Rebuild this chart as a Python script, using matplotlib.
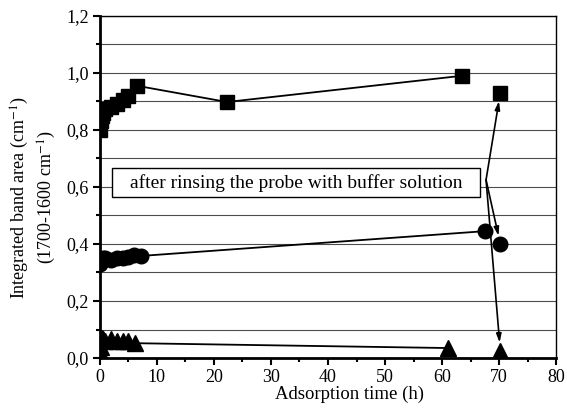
import numpy as np
import matplotlib
matplotlib.use("Agg")
import matplotlib.pyplot as plt
from matplotlib.patches import Rectangle
from matplotlib.ticker import MultipleLocator, FuncFormatter

plt.rcParams["font.family"] = ["Liberation Serif", "DejaVu Serif"]
plt.rcParams["mathtext.fontset"] = "stix"

# squares
sq_x = [0, 0.17, 0.33, 0.5, 1, 2, 3, 4, 5, 6.5, 22.3, 63.5]
sq_y = [0.80, 0.83, 0.85, 0.86, 0.875, 0.88, 0.89, 0.905, 0.92, 0.955, 0.898, 0.99]
sq_rinse = (70.2, 0.93)

# circles
ci_x = [0, 0.17, 0.33, 0.5, 1, 2, 3, 4, 5, 6, 7.2, 67.5]
ci_y = [0.33, 0.34, 0.345, 0.35, 0.35, 0.345, 0.35, 0.35, 0.355, 0.36, 0.358, 0.445]
ci_rinse = (70.2, 0.40)

# triangles
tr_x = [0, 0.17, 0.33, 0.5, 1, 2, 3, 4, 5, 6.2, 61.0]
tr_y = [0.02, 0.04, 0.07, 0.065, 0.06, 0.065, 0.06, 0.06, 0.06, 0.052, 0.035]
tr_rinse = (70.2, 0.025)

note = "after rinsing the probe with buffer solution"
arrow_origin = (67.7, 0.625)

fig = plt.figure(figsize=(5.67, 4.08), dpi=100)
ax = fig.add_axes([0.176, 0.1225, 0.805, 0.8385])

ax.plot(sq_x, sq_y, "-s", color="black", lw=1.3, ms=10, zorder=4)
ax.plot(*sq_rinse, "s", color="black", ms=10, zorder=4)
ax.plot(ci_x, ci_y, "-o", color="black", lw=1.3, ms=10.5, zorder=4)
ax.plot(*ci_rinse, "o", color="black", ms=10.5, zorder=4)
ax.plot(tr_x, tr_y, "-^", color="black", lw=1.3, ms=11, zorder=4)
ax.plot(*tr_rinse, "^", color="black", ms=11, zorder=4)

for tgt in [sq_rinse, ci_rinse, tr_rinse]:
    ax.annotate("", xy=tgt, xytext=arrow_origin,
                arrowprops=dict(arrowstyle="-|>,head_length=0.5,head_width=0.15",
                                color="black", lw=1.2, shrinkA=0, shrinkB=6),
                zorder=5)

ax.add_patch(Rectangle((2.1, 0.565), 64.6, 0.102, facecolor="white",
                       edgecolor="black", lw=1, zorder=3))
ax.text(34.4, 0.614, note, ha="center", va="center", fontsize=14, zorder=6)

ax.set_xlim(0, 80)
ax.set_ylim(0, 1.2)
ax.xaxis.set_major_locator(MultipleLocator(10))
ax.xaxis.set_minor_locator(MultipleLocator(5))
ax.yaxis.set_major_locator(MultipleLocator(0.2))
ax.yaxis.set_minor_locator(MultipleLocator(0.1))
ax.yaxis.set_major_formatter(FuncFormatter(lambda v, p: f"{v:.1f}".replace(".", ",")))
ax.tick_params(which="major", length=5, width=1.5, labelsize=13, direction="out", pad=3)
ax.tick_params(which="minor", length=3, width=1.5, direction="out")

ax.grid(True, axis="y", which="both", color="0.3", lw=0.8)
ax.set_axisbelow(True)

for side in ["left", "bottom"]:
    ax.spines[side].set_linewidth(2)
for side in ["top", "right"]:
    ax.spines[side].set_linewidth(1)

ax.set_xlabel("Adsorption time (h)", fontsize=13.5)
ax.xaxis.set_label_coords(0.548, -0.081)
ax.set_ylabel("Integrated band area (cm$^{-1}$)\n(1700-1600 cm$^{-1}$)",
              fontsize=13, linespacing=1.3)
ax.yaxis.set_label_coords(-0.092, 0.47)

fig.savefig("out.png", dpi=100)
